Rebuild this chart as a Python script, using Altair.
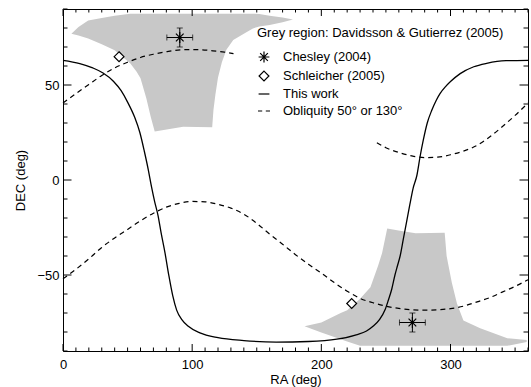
import altair as alt
import pandas as pd

# ---------------- data ----------------
SOLID_RA = [0, 13, 23, 31, 39, 45, 50, 55.5, 59.5, 63, 66, 68.5, 71, 73.5, 76, 79, 82, 85, 88, 92,
            97, 106, 120, 140, 165, 190, 212, 227, 235, 240, 245, 249.5, 252, 254.5, 257, 259,
            261, 263.5, 266, 268.5, 271, 274, 276.5, 279, 282, 285.5, 289, 292, 296, 300, 307.5,
            318, 328, 343, 360]
SOLID_DEC = [63, 61.3, 59, 56.3, 52, 47, 41, 33, 25, 15, 5.5, -3.5, -11.5, -18.5, -28, -38.5, -50.5,
             -61, -68.5, -73.5, -77, -80.5, -83, -84.5, -85.3, -85, -83.8, -81.5, -79.5, -77, -73.5,
             -68, -63, -57.5, -50, -45, -40, -31, -22, -13, -4.5, 2.5, 12.5, 21.2, 30, 36.7, 42,
             45.6, 49, 51.8, 56, 59.6, 61.4, 62.8, 63]

OBL_A_RA = [0, 10, 20, 30, 40, 50, 60, 70, 80, 95, 105, 116, 125, 132]
OBL_A_DEC = [40.5, 45.5, 50.3, 55, 59, 62, 64.5, 66.2, 67.5, 68.6, 68.6, 68, 67.3, 66.5]

OBL_B_RA = [0, 10, 20, 30, 40, 50, 60, 70, 80, 90, 100, 110, 120, 130, 140, 150, 160, 170, 180,
            190, 200, 210, 220, 230, 240, 250, 260, 270, 280, 290, 300, 310, 320, 330, 340, 350, 360]
OBL_B_DEC = [-52, -47, -41.5, -35.5, -30.5, -26, -21.5, -17.5, -14.3, -12.3, -11.3, -11.5, -12.8,
             -14.8, -18, -22.8, -28.5, -33.8, -39.3, -44.3, -49, -54, -58.5, -62.3, -64.6, -66.4,
             -67.6, -68.3, -68.5, -68.3, -67.7, -66.4, -64.3, -62, -59, -56, -52.5]

OBL_C_RA = [243, 250, 260, 270, 280, 290, 300, 310, 320, 330, 340, 350, 360]
OBL_C_DEC = [19.6, 17, 14.5, 12.7, 11.8, 12, 13.3, 15.2, 18, 22.5, 28, 34, 40.5]

GREY_N_RA = [6.5, 12, 19.5, 30, 40, 52, 57, 60, 64.5, 68, 71, 93, 115.5, 116.5, 118, 120, 123,
             126.5, 131.8, 140, 147, 152, 160, 170, 178]
GREY_N_LO = [77, 76, 74.5, 71.5, 68.3, 61.5, 57, 53.5, 43, 33, 25.5, 28, 27.7, 37, 45, 54, 62,
             68.5, 73.7, 77, 79.8, 80.8, 81.6, 83, 84.5]
GREY_N_HI = [77, 80.5, 84, 85.2, 86.5, 87.5, 87.5, 87.5, 87.5, 87.5, 87.5, 87.5, 87.5, 87.5, 87.5,
             87.5, 87.5, 87.5, 87.5, 87.5, 87.5, 87.4, 86.5, 85.5, 84.5]

GREY_S_RA = [187, 200, 215, 220, 230, 238, 244, 247, 251, 262, 273, 295.5, 297, 301, 305, 310,
             323, 344, 359]
GREY_S_LO = [-77, -80.2, -83.8, -85, -87.3, -87.3, -87.3, -87.3, -87.3, -87.3, -87.3, -87.3,
             -87.3, -87.3, -87.3, -87.3, -87.3, -87.3, -85.3]
GREY_S_HI = [-77, -75, -70, -68.5, -62.5, -56.5, -45, -38.5, -25.5, -26.8, -28, -27.7, -40, -54,
             -65, -74, -78, -83.3, -84.2]

CHESLEY_RA = [90.4, 270.5]
CHESLEY_DEC = [75, -75]
CHESLEY_RA_ERR = [10, 10]
CHESLEY_DEC_ERR = [5, 5]

SCHLEICHER_RA = [43.4, 223.5]
SCHLEICHER_DEC = [64.9, -65]

LEGEND_TITLE = "Grey region: Davidsson & Gutierrez (2005)"
LEGEND_LABELS = ["Chesley (2004)", "Schleicher (2005)", "This work", "Obliquity 50° or 130°"]

X_LABELS = [0, 100, 200, 300]
Y_LABELS = [-50, 0, 50]
X_TICKS = list(range(0, 361, 10))
Y_TICKS = list(range(-90, 91, 10))

# ---------------- styling ----------------
FONT = "Liberation Sans"
W, H = 465, 342
GREY = "#c8c8c8"

xs = alt.Scale(domain=[0, 360], nice=False, zero=False)
ys = alt.Scale(domain=[-90, 90], nice=False, zero=False)

x_axis = alt.Axis(title="RA (deg)", values=X_LABELS, format="d", domain=False, ticks=False,
                  tickSize=0, grid=False, labelPadding=7, titlePadding=2, labelFontSize=13,
                  titleFontSize=13, labelFont=FONT, titleFont=FONT, titleFontWeight="normal",
                  labelColor="black", titleColor="black", labelFlush=False)
y_axis = alt.Axis(title="DEC (deg)", values=Y_LABELS, format="d", domain=False, ticks=False,
                  tickSize=0, grid=False, labelPadding=4, titlePadding=9, labelFontSize=13,
                  titleFontSize=13, labelFont=FONT, titleFont=FONT, titleFontWeight="normal",
                  labelColor="black", titleColor="black", labelFlush=False)


def X(field):
    return alt.X(f"{field}:Q", scale=xs, axis=x_axis)


def Y(field):
    return alt.Y(f"{field}:Q", scale=ys, axis=y_axis)


# grey regions
grey_n = pd.DataFrame({"ra": GREY_N_RA, "lo": GREY_N_LO, "hi": GREY_N_HI})
grey_s = pd.DataFrame({"ra": GREY_S_RA, "lo": GREY_S_LO, "hi": GREY_S_HI})
grey_layers = [
    alt.Chart(d).mark_area(color=GREY, opacity=1, interpolate="linear").encode(
        x=X("ra"), y=Y("lo"), y2="hi")
    for d in (grey_n, grey_s)
]

# curves
solid = pd.DataFrame({"ra": SOLID_RA, "dec": SOLID_DEC})
solid_layer = alt.Chart(solid).mark_line(color="black", strokeWidth=1.3,
                                         interpolate="monotone").encode(x=X("ra"), y=Y("dec"))

dashed = pd.concat([
    pd.DataFrame({"ra": OBL_A_RA, "dec": OBL_A_DEC, "seg": "a"}),
    pd.DataFrame({"ra": OBL_B_RA, "dec": OBL_B_DEC, "seg": "b"}),
    pd.DataFrame({"ra": OBL_C_RA, "dec": OBL_C_DEC, "seg": "c"}),
])
dashed_layer = alt.Chart(dashed).mark_line(color="black", strokeWidth=1.2, strokeDash=[5, 4],
                                           interpolate="monotone").encode(
    x=X("ra"), y=Y("dec"), detail="seg:N")

# error bars for Chesley
ch = pd.DataFrame({"ra": CHESLEY_RA, "dec": CHESLEY_DEC,
                   "rerr": CHESLEY_RA_ERR, "derr": CHESLEY_DEC_ERR})
ch_base = alt.Chart(ch).transform_calculate(
    ra_lo="datum.ra - datum.rerr", ra_hi="datum.ra + datum.rerr",
    dec_lo="datum.dec - datum.derr", dec_hi="datum.dec + datum.derr")
err_h = ch_base.mark_rule(color="black", strokeWidth=1).encode(x=X("ra_lo"), x2="ra_hi", y=Y("dec"))
err_v = ch_base.mark_rule(color="black", strokeWidth=1).encode(x=X("ra"), y=Y("dec_lo"), y2="dec_hi")
cap_l = ch_base.mark_tick(color="black", orient="vertical", size=6, thickness=1).encode(
    x=X("ra_lo"), y=Y("dec"))
cap_r = ch_base.mark_tick(color="black", orient="vertical", size=6, thickness=1).encode(
    x=X("ra_hi"), y=Y("dec"))
cap_b = ch_base.mark_tick(color="black", orient="horizontal", size=6, thickness=1).encode(
    x=X("ra"), y=Y("dec_lo"))
cap_t = ch_base.mark_tick(color="black", orient="horizontal", size=6, thickness=1).encode(
    x=X("ra"), y=Y("dec_hi"))

# markers + legend
ASTERISK = ("M-0.9,0L0.9,0M0,-0.9L0,0.9M-0.64,-0.64L0.64,0.64M-0.64,0.64L0.64,-0.64")
DIAMOND = "M0,-0.82L0.82,0L0,0.82L-0.82,0Z"
LINE = "M-0.9,0L0.9,0"
DASH = "M-1,0L-0.3,0M0.3,0L1,0"

sch = pd.DataFrame({"ra": SCHLEICHER_RA, "dec": SCHLEICHER_DEC})
diamond_fill = alt.Chart(sch).mark_point(shape=DIAMOND, size=144, filled=True, color="white",
                                         opacity=1).encode(x=X("ra"), y=Y("dec"))

markers = pd.concat([
    pd.DataFrame({"ra": CHESLEY_RA, "dec": CHESLEY_DEC, "label": LEGEND_LABELS[0]}),
    pd.DataFrame({"ra": SCHLEICHER_RA, "dec": SCHLEICHER_DEC, "label": LEGEND_LABELS[1]}),
])
shape_scale = alt.Scale(domain=LEGEND_LABELS, range=[ASTERISK, DIAMOND, LINE, DASH])
legend = alt.Legend(title=LEGEND_TITLE, orient="none", legendX=194, legendY=18, padding=0,
                    titleFont=FONT, titleFontSize=13, titleFontWeight="normal", titleColor="black",
                    titleLimit=400, titlePadding=10, labelFont=FONT, labelFontSize=13,
                    labelColor="black", labelLimit=300, labelOffset=12, rowPadding=3,
                    symbolSize=144, symbolStrokeWidth=1.2)
marker_layer = alt.Chart(markers).mark_point(size=144, color="black", filled=False,
                                             strokeWidth=1.2, opacity=1).encode(
    x=X("ra"), y=Y("dec"), shape=alt.Shape("label:N", scale=shape_scale, legend=legend))


# tick marks (inward, on all four sides)
def xticks(vals, length, top):
    d = pd.DataFrame({"v": vals})
    if top:
        yy, yy2 = alt.value(0), alt.value(length)
    else:
        yy, yy2 = alt.value(H), alt.value(H - length)
    return alt.Chart(d).mark_rule(color="black", strokeWidth=1).encode(x=X("v"), y=yy, y2=yy2)


def yticks(vals, length, right):
    d = pd.DataFrame({"v": vals})
    if right:
        xx, xx2 = alt.value(W), alt.value(W - length)
    else:
        xx, xx2 = alt.value(0), alt.value(length)
    return alt.Chart(d).mark_rule(color="black", strokeWidth=1).encode(y=Y("v"), x=xx, x2=xx2)


x_minor = [v for v in X_TICKS if v not in X_LABELS]
y_minor = [v for v in Y_TICKS if v not in Y_LABELS]
tick_layers = [
    xticks(X_LABELS, 7, False), xticks(x_minor, 3.5, False),
    xticks(X_LABELS, 7, True), xticks(x_minor, 3.5, True),
    yticks(Y_LABELS, 8.5, False), yticks(y_minor, 4.5, False),
    yticks(Y_LABELS, 8.5, True), yticks(y_minor, 4.5, True),
]

chart = alt.layer(
    *grey_layers, solid_layer, dashed_layer, err_h, err_v, cap_l, cap_r, cap_b, cap_t,
    diamond_fill, marker_layer, *tick_layers
).properties(
    width=W, height=H,
    padding={"left": 63, "top": 9, "right": 3, "bottom": 36},
    autosize=alt.AutoSizeParams(type="none"),
    background="white",
).configure_view(stroke="black", strokeWidth=1)

chart.save("out.html", embed_options={"renderer": "svg", "actions": False})
